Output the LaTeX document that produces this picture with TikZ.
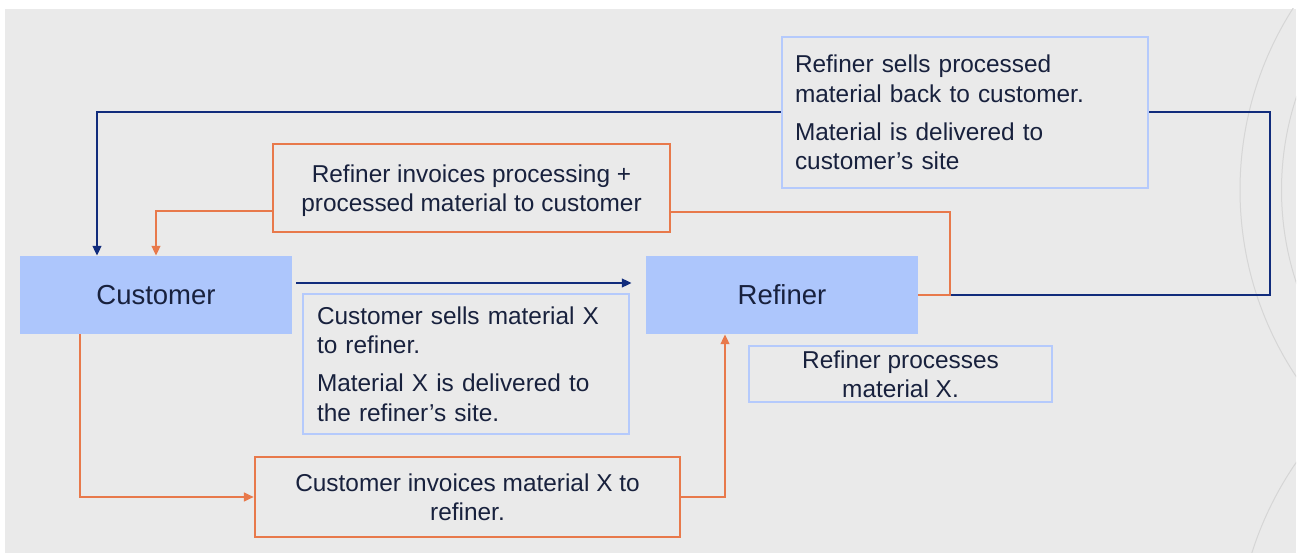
\documentclass[tikz,border=0pt]{standalone}
\usepackage{fontspec}
\setmainfont{Liberation Sans}
\usetikzlibrary{arrows.meta,calc}

\pgfdeclarelayer{backdrop}
\pgfdeclarelayer{wires}
\pgfsetlayers{backdrop,wires,main}

\definecolor{pagegray}{HTML}{EAEAEA}
\definecolor{ringgray}{HTML}{D6D6D6}
\definecolor{partyfill}{HTML}{ADC6FC}
\definecolor{noteblue}{HTML}{B5CAFC}
\definecolor{flowblue}{HTML}{112C7C}
\definecolor{flowred}{HTML}{E8794B}
\definecolor{ink}{HTML}{18213D}

\begin{document}
\begin{tikzpicture}[x=1pt,y=-1pt,
  party/.style={fill=partyfill, draw=none, inner sep=0pt,
    minimum width=272pt, minimum height=78pt, text=ink,
    font=\fontsize{27.5}{33}\selectfont},
  notebase/.style={fill=pagegray, line width=2.2pt, inner sep=0pt, text=ink,
    font=\fontsize{24.4}{29.3}\selectfont},
  bluenote/.style={notebase, draw=noteblue},
  rednote/.style={notebase, draw=flowred, align=center},
  tip/.style={-{Triangle[length=10pt,width=8.5pt]}},
  bluewire/.style={draw=flowblue, line width=2.5pt},
  redwire/.style={draw=flowred, line width=2.5pt}]

\useasboundingbox (0,0) rectangle (1301,553);

% page and the decorative rings on its right edge
\begin{pgfonlayer}{backdrop}
  \fill[white] (0,0) rectangle (1301,553);
  \fill[pagegray] (5,9) rectangle (1296,553);
  \begin{scope}
    \clip (5,9) rectangle (1296,553);
    \draw[ringgray, line width=1pt] (1577.5,190) circle[radius=337.5pt];
    \draw[ringgray, line width=1pt] (1577.5,190) circle[radius=296pt];
    \draw[ringgray, line width=1pt] (1577,656) circle[radius=341pt];
  \end{scope}
\end{pgfonlayer}

% the two parties
\node[party] (cust) at (156,295) {Customer};
\node[party] (ref)  at (782,295) {Refiner};

% explanatory notes
\node[bluenote, minimum width=326pt, minimum height=140pt, inner xsep=14pt,
      text width=298pt, align=left] (sell) at (466,364)
  {Customer sells material X\\to refiner.\\[9pt]Material X is delivered to\\the refiner’s site.};
\node[bluenote, minimum width=366pt, minimum height=151pt, inner xsep=13pt,
      text width=340pt, align=left] (back) at (965,112.5)
  {Refiner sells processed\\material back to customer.\\[9pt]Material is delivered to\\customer’s site};
\node[bluenote, minimum width=303pt, minimum height=56pt, align=center] (proc) at (900.5,374)
  {Refiner processes\\material X.};
\node[rednote, minimum width=397pt, minimum height=88pt, text depth=-3pt] (inv1) at (471.5,188)
  {Refiner invoices processing +\\processed material to customer};
\node[rednote, minimum width=425pt, minimum height=80pt] (inv2) at (467.5,497)
  {Customer invoices material X to\\refiner.};

\coordinate (loopcorner) at (1270,112);
\coordinate (billcorner) at (950,212);

\begin{pgfonlayer}{wires}
  % material flows
  \draw[bluewire, tip, shorten <=4pt, shorten >=14pt]
    ([yshift=12pt]cust.east) -- ([yshift=12pt]ref.west);
  \draw[bluewire, tip]
    (ref.east) -| (loopcorner) -| ([xshift=-59pt]cust.north);
  % invoicing flows
  \draw[redwire]
    (ref.east) -| (billcorner) -- ([yshift=-24pt]inv1.east);
  \draw[redwire, tip]
    ([yshift=-23pt]inv1.west) -| (cust.north);
  \draw[redwire, tip]
    ([xshift=-76pt]cust.south) |- (inv2.west);
  \draw[redwire, tip]
    (inv2.east) -| ([xshift=-57pt]ref.south);
\end{pgfonlayer}
\end{tikzpicture}
\end{document}
